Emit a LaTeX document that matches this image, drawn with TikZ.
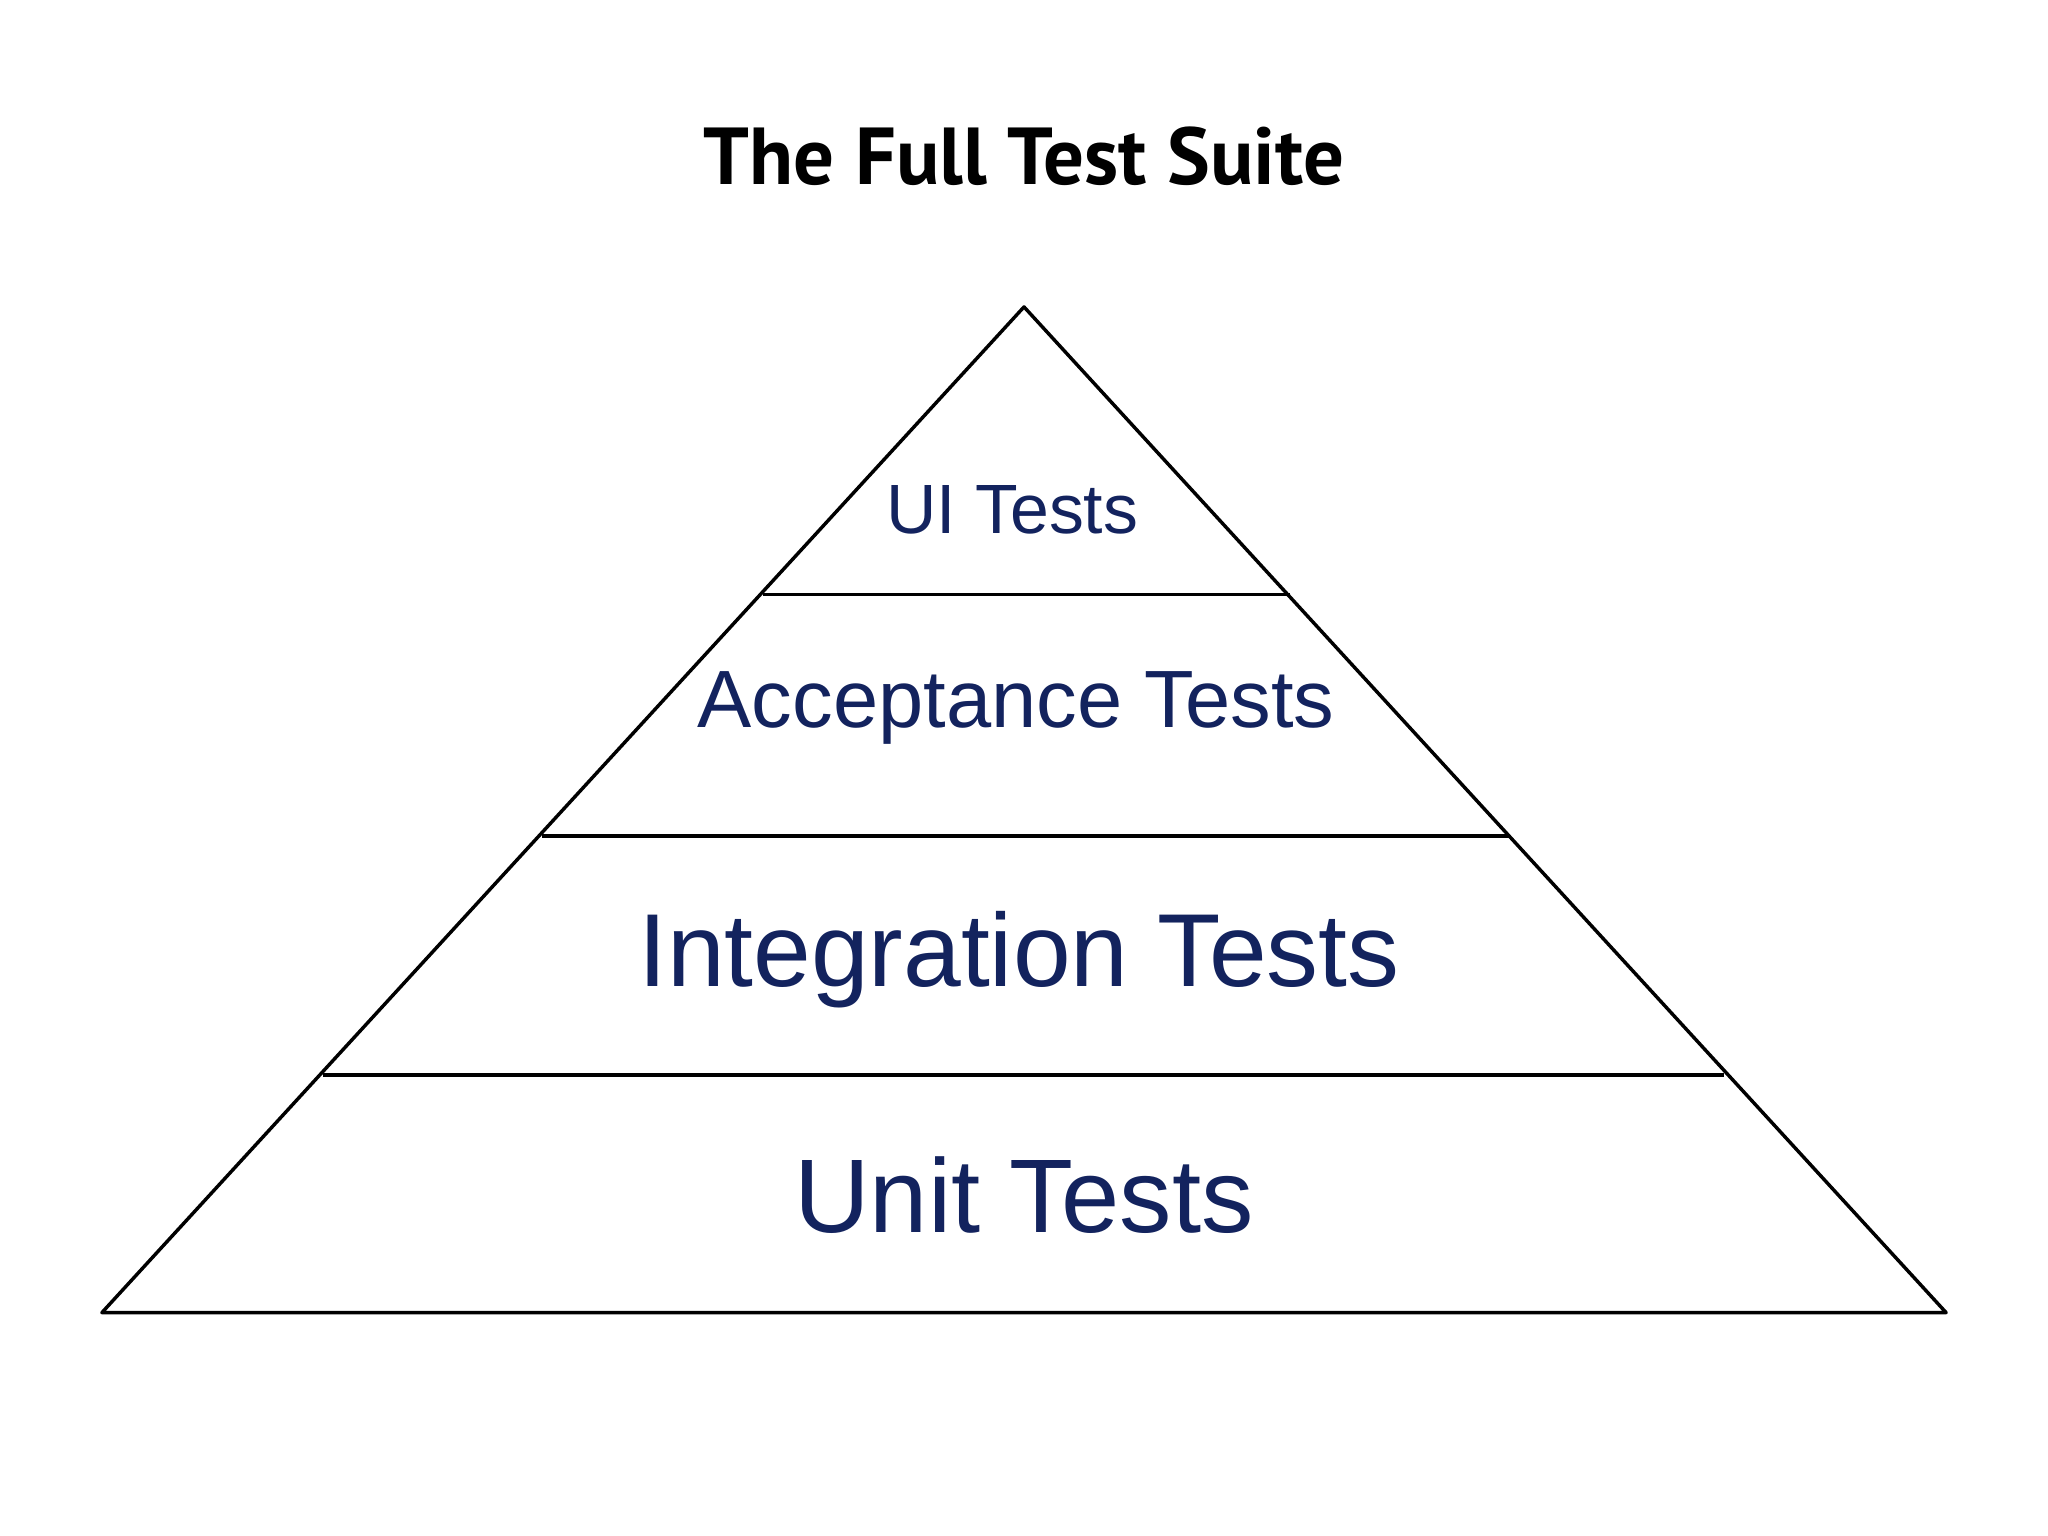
\documentclass[tikz,border=0pt]{standalone}
\usepackage{fontspec}
\setmainfont{Liberation Sans}
\newfontfamily\titlefont{PT Sans}
\definecolor{tierblue}{HTML}{13235E}
\begin{document}
\begin{tikzpicture}[line join=round,line width=0.75pt,
  tier/.style={text=tierblue,inner sep=0pt},
  title/.style={font=\titlefont\bfseries\fontsize{17.6}{21}\selectfont}]
\useasboundingbox (0,0) rectangle (15.68,11.76);
% pyramid outline
\coordinate (apex) at (7.84,9.41);
\coordinate (bl) at (0.78,1.71);
\coordinate (br) at (14.90,1.71);
\draw (apex)--(br)--(bl)--cycle;
% tier dividers
\coordinate (uil) at (5.84,7.21); \coordinate (uir) at (9.88,7.21);
\coordinate (acl) at (4.15,5.36); \coordinate (acr) at (11.55,5.36);
\coordinate (inl) at (2.47,3.53); \coordinate (inr) at (13.20,3.53);
\draw (uil)--(uir);
\draw (acl)--(acr);
\draw (inl)--(inr);
% labels
\node[title] (ttl) at (7.84,10.56) {The Full Test Suite};
\node[tier,font=\fontsize{15.2}{18}\selectfont] (ui) at (7.75,7.86) {UI Tests};
\node[tier,font=\fontsize{17.7}{21}\selectfont] (acc) at (7.78,6.34) {Acceptance Tests};
\node[tier,font=\fontsize{22.6}{27}\selectfont] (int) at (7.80,4.41) {Integration Tests};
\node[tier,font=\fontsize{22.8}{27}\selectfont] (unit) at (7.84,2.61) {Unit Tests};
\end{tikzpicture}
\end{document}
